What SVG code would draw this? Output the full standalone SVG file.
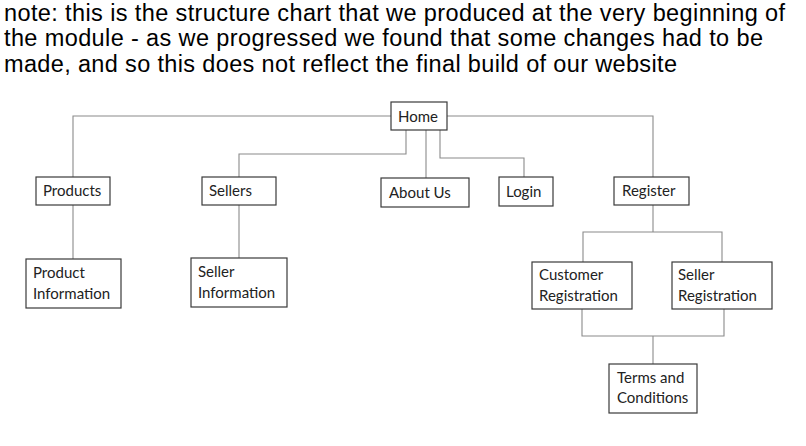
<svg xmlns="http://www.w3.org/2000/svg" width="806" height="446" viewBox="0 0 806 446">
<style>
.note{font-family:"Liberation Sans",Arial,sans-serif;font-size:23.5px;fill:#000}
.box{fill:#fff;stroke:#3a3a3a;stroke-width:1.2}
.lbl{font-family:Lato,"Open Sans",sans-serif;font-size:15px;fill:#222}
.con{fill:none;stroke:#8a8a8a;stroke-width:1.1}
</style>
<rect width="806" height="446" fill="#fff"/>
<g id="note">
<text class="note" x="4" y="21" textLength="781" lengthAdjust="spacing">note: this is the structure chart that we produced at the very beginning of</text>
<text class="note" x="4" y="46" textLength="759" lengthAdjust="spacing">the module - as we progressed we found that some changes had to be</text>
<text class="note" x="4" y="72" textLength="673" lengthAdjust="spacing">made, and so this does not reflect the final build of our website</text>
</g>
<g id="connectors">
<path class="con" d="M391 116H73V177"/>
<path class="con" d="M447 116H653V177"/>
<path class="con" d="M406 130V154H239V177"/>
<path class="con" d="M426 130V178"/>
<path class="con" d="M440 130V158H524V177"/>
<path class="con" d="M73 205V259"/>
<path class="con" d="M239 205V258"/>
<path class="con" d="M653 205V232"/>
<path class="con" d="M583 262V232H722V262"/>
<path class="con" d="M582 309V336H724V309"/>
<path class="con" d="M653 336V364"/>
</g>
<g id="home"><rect class="box" x="391" y="102" width="56" height="28"/><text class="lbl" x="398" y="122">Home</text></g>
<g id="products"><rect class="box" x="36" y="177" width="74" height="28"/><text class="lbl" x="43" y="196">Products</text></g>
<g id="sellers"><rect class="box" x="202" y="177" width="74" height="28"/><text class="lbl" x="209" y="196">Sellers</text></g>
<g id="about"><rect class="box" x="381" y="178" width="88" height="29"/><text class="lbl" x="389" y="198">About Us</text></g>
<g id="login"><rect class="box" x="499" y="177" width="54" height="29"/><text class="lbl" x="506" y="197">Login</text></g>
<g id="register"><rect class="box" x="614" y="177" width="75" height="28"/><text class="lbl" x="622" y="196">Register</text></g>
<g id="product-info"><rect class="box" x="26" y="259" width="95" height="49"/><text class="lbl" x="33" y="278">Product</text><text class="lbl" x="33" y="299">Information</text></g>
<g id="seller-info"><rect class="box" x="191" y="258" width="96" height="49"/><text class="lbl" x="198" y="277">Seller</text><text class="lbl" x="198" y="298">Information</text></g>
<g id="customer-reg"><rect class="box" x="532" y="262" width="100" height="47"/><text class="lbl" x="539" y="280">Customer</text><text class="lbl" x="539" y="301">Registration</text></g>
<g id="seller-reg"><rect class="box" x="672" y="262" width="100" height="47"/><text class="lbl" x="678" y="280">Seller</text><text class="lbl" x="678" y="301">Registration</text></g>
<g id="terms"><rect class="box" x="609" y="364" width="88" height="49"/><text class="lbl" x="617" y="383">Terms and</text><text class="lbl" x="617" y="403">Conditions</text></g>
</svg>
